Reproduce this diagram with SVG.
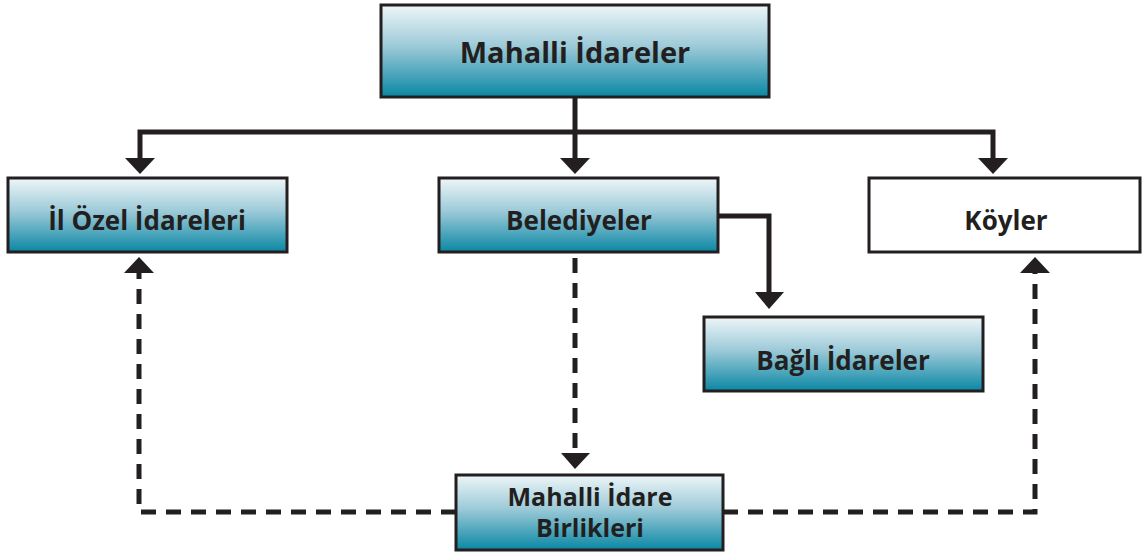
<svg xmlns="http://www.w3.org/2000/svg" width="1142" height="554" viewBox="0 0 1142 554">
<defs>
<linearGradient id="g" x1="0" y1="0" x2="0" y2="1">
<stop offset="0" stop-color="#eef6f8"/>
<stop offset="0.45" stop-color="#9ccad8"/>
<stop offset="1" stop-color="#0a87a4"/>
</linearGradient>
</defs>
<style>
.box{fill:url(#g);stroke:#231f20;stroke-width:3}
.wbox{fill:#fff;stroke:#231f20;stroke-width:3}
.t{font-family:"Open Sans","Noto Sans",sans-serif;font-weight:bold;fill:#231f20;text-anchor:middle}
.ln{fill:none;stroke:#231f20;stroke-width:5}
.ds{fill:none;stroke:#231f20;stroke-width:5;stroke-dasharray:15 10}
.ar{fill:#231f20}
</style>
<g id="connectors">
<path class="ln" d="M575 97 V132 M140 162 V132 H993 V162 M575 132 V162"/>
<path class="ln" d="M718 216 H769 V294"/>
<path class="ds" d="M575 258 V455"/>
<path class="ds" d="M456 512 H139 V272"/>
<path class="ds" d="M723 512 H1035 V272"/>
<polygon class="ar" points="125,158 155,158 140,174"/>
<polygon class="ar" points="560,158 590,158 575,174"/>
<polygon class="ar" points="978,158 1008,158 993,174"/>
<polygon class="ar" points="755,292 784,292 769,309"/>
<polygon class="ar" points="561,453 590,453 575,469"/>
<polygon class="ar" points="124,273 154,273 139,257"/>
<polygon class="ar" points="1020,273 1050,273 1035,257"/>
</g>
<g id="n-mahalli">
<rect class="box" x="381" y="5" width="388" height="92"/>
<text class="t" x="575" y="63" font-size="29">Mahalli İdareler</text>
</g>
<g id="n-ilozel">
<rect class="box" x="8" y="178" width="279" height="74"/>
<text class="t" x="147" y="230" font-size="26">İl Özel İdareleri</text>
</g>
<g id="n-belediyeler">
<rect class="box" x="439" y="178" width="279" height="74"/>
<text class="t" x="579" y="230" font-size="26">Belediyeler</text>
</g>
<g id="n-koyler">
<rect class="wbox" x="869" y="178" width="271" height="74"/>
<text class="t" x="1006" y="230" font-size="26">Köyler</text>
</g>
<g id="n-bagli">
<rect class="box" x="704" y="317" width="279" height="74"/>
<text class="t" x="843" y="370" font-size="26">Bağlı İdareler</text>
</g>
<g id="n-birlik">
<rect class="box" x="456" y="475" width="267" height="75"/>
<text class="t" x="590" y="506" font-size="25">Mahalli İdare</text>
<text class="t" x="590" y="537" font-size="25">Birlikleri</text>
</g>
</svg>
